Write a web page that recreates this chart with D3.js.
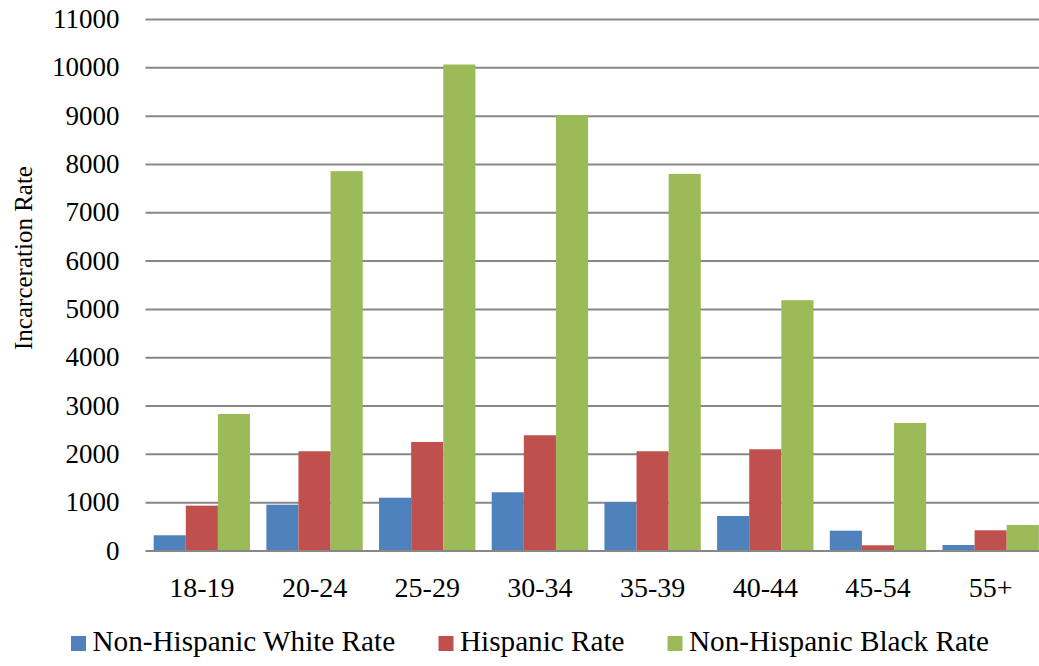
<!DOCTYPE html>
<html>
<head>
<meta charset="utf-8">
<script src="https://cdn.jsdelivr.net/npm/d3@7"></script>
<style>
  html, body { margin: 0; padding: 0; background: #fff; }
  svg { display: block; font-family: "Liberation Serif", "Times New Roman", serif; }
</style>
</head>
<body>
<svg id="chart" width="1039" height="666"></svg>
<script>
// Incarceration rate by age group and race/ethnicity
const ageGroups = ["18-19", "20-24", "25-29", "30-34", "35-39", "40-44", "45-54", "55+"];
const seriesNames = ["Non-Hispanic White Rate", "Hispanic Rate", "Non-Hispanic Black Rate"];
const whiteRate = [315, 948, 1093, 1205, 998, 714, 410, 114];
const hispanicRate = [928, 2054, 2246, 2385, 2054, 2095, 108, 418];
const blackRate = [2826, 7851, 10058, 9010, 7795, 5180, 2640, 528];
const yTicks = [0, 1000, 2000, 3000, 4000, 5000, 6000, 7000, 8000, 9000, 10000, 11000];
const colors = ["#4F81BD", "#C0504D", "#9BBB59"];

const seriesValues = [whiteRate, hispanicRate, blackRate];

const svg = d3.select("#chart");
const plotLeft = 145.5, plotRight = 1047, plotTop = 19, plotBottom = 550.5;

const x0 = d3.scaleBand().domain(ageGroups).range([plotLeft, plotRight]).padding(0);
const groupWidth = x0.bandwidth() * 0.855;
const x1 = d3.scaleBand().domain(seriesNames).range([0, groupWidth]).padding(0);
const y = d3.scaleLinear().domain([0, 11000]).range([plotBottom, plotTop]);

// Horizontal gridlines with value labels
const yAxis = svg.append("g")
  .attr("transform", `translate(${plotLeft},0)`)
  .call(d3.axisLeft(y).tickValues(yTicks).tickSize(-(plotRight - plotLeft)).tickPadding(26).tickFormat(d3.format("d")));
yAxis.select(".domain").remove();
yAxis.selectAll(".tick line").attr("stroke", "#878787").attr("stroke-width", 2);
yAxis.selectAll(".tick text")
  .attr("font-size", 27)
  .attr("fill", "#000")
  .attr("font-family", "Liberation Serif, Times New Roman, serif");

// Bars
const groups = svg.append("g").selectAll("g")
  .data(ageGroups)
  .join("g")
  .attr("transform", d => `translate(${x0(d) + (x0.bandwidth() - groupWidth) / 2},0)`);

groups.selectAll("rect")
  .data((d, i) => seriesNames.map((s, k) => ({ series: s, value: seriesValues[k][i], k })))
  .join("rect")
  .attr("x", d => x1(d.series))
  .attr("width", x1.bandwidth())
  .attr("y", d => y(d.value))
  .attr("height", d => y(0) - y(d.value))
  .attr("fill", d => colors[d.k]);

// Baseline and category labels
const xAxis = svg.append("g")
  .attr("transform", `translate(0,${plotBottom})`)
  .call(d3.axisBottom(x0).tickSize(0).tickPadding(26.5));
xAxis.select(".domain").attr("stroke", "#878787").attr("stroke-width", 2);
xAxis.selectAll(".tick text")
  .attr("font-size", 28)
  .attr("fill", "#000")
  .attr("font-family", "Liberation Serif, Times New Roman, serif");

// Y axis title
svg.append("text")
  .attr("transform", "translate(23,258) rotate(-90)")
  .attr("text-anchor", "middle")
  .attr("dominant-baseline", "central")
  .attr("font-size", 25)
  .attr("fill", "#000")
  .text("Incarceration Rate");

// Legend
const legendX = [71, 438.5, 667.5];
const legend = svg.append("g").selectAll("g")
  .data(seriesNames)
  .join("g")
  .attr("transform", (d, i) => `translate(${legendX[i]},636)`);
legend.append("rect")
  .attr("width", 15).attr("height", 15)
  .attr("fill", (d, i) => colors[i]);
legend.append("text")
  .attr("x", 21.5)
  .attr("y", 14.7)
  .attr("font-size", 29.2)
  .attr("fill", "#000")
  .text(d => d);
</script>
</body>
</html>
